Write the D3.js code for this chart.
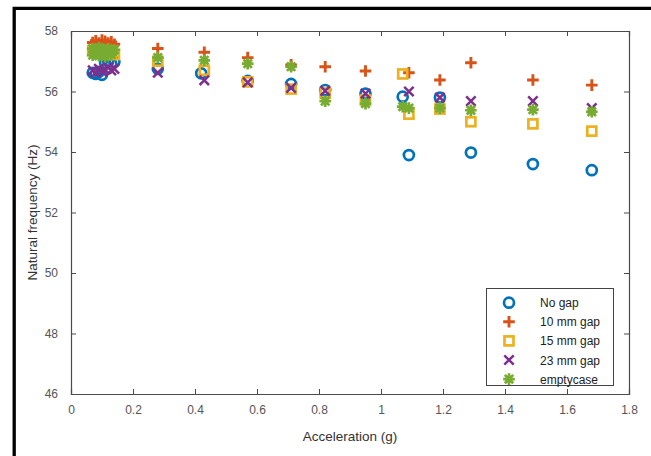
<!DOCTYPE html>
<html><head><meta charset="utf-8">
<script src="https://cdn.jsdelivr.net/npm/d3@7"></script>
<style>body{margin:0;background:#fff;} svg{display:block;}</style>
</head><body>
<svg id="c" width="651" height="456"></svg>
<script>
const xTicks = [0,0.2,0.4,0.6,0.8,1,1.2,1.4,1.6,1.8];
const yTicks = [46,48,50,52,54,56,58];
const seriesNames = ["No gap","10 mm gap","15 mm gap","23 mm gap","emptycase"];

const noGapX = [0.07,0.08,0.09,0.10,0.11,0.12,0.13,0.14,0.28,0.42,0.57,0.71,0.82,0.95,1.07,1.09,1.19,1.29,1.49,1.68];
const noGapY = [56.62,56.58,56.65,56.55,56.95,57.0,56.92,56.98,56.75,56.6,56.35,56.25,56.05,55.93,55.83,53.9,55.8,53.98,53.6,53.4];

const gap10X = [0.07,0.08,0.09,0.10,0.11,0.12,0.13,0.14,0.28,0.43,0.57,0.71,0.82,0.95,1.09,1.19,1.29,1.49,1.68];
const gap10Y = [57.62,57.68,57.6,57.7,57.66,57.6,57.64,57.56,57.42,57.3,57.12,56.88,56.82,56.68,56.62,56.38,56.95,56.38,56.21];

const gap15X = [0.07,0.08,0.09,0.10,0.11,0.12,0.13,0.14,0.28,0.43,0.57,0.71,0.82,0.95,1.07,1.09,1.19,1.29,1.49,1.68];
const gap15Y = [57.35,57.3,57.38,57.28,57.32,57.25,57.3,57.22,57.0,56.7,56.32,56.08,55.95,55.72,56.58,55.25,55.42,55.0,54.93,54.69];

const gap23X = [0.07,0.08,0.09,0.10,0.11,0.12,0.13,0.14,0.28,0.43,0.57,0.71,0.82,0.95,1.09,1.19,1.29,1.49,1.68];
const gap23Y = [56.7,56.62,56.75,56.66,56.72,56.8,56.7,56.75,56.62,56.37,56.3,56.12,56.02,55.93,56.0,55.8,55.68,55.68,55.45];

const emptyX = [0.07,0.08,0.09,0.10,0.11,0.12,0.13,0.14,0.07,0.09,0.11,0.13,0.28,0.43,0.57,0.71,0.82,0.95,1.07,1.09,1.19,1.29,1.49,1.68];
const emptyY = [57.42,57.38,57.45,57.4,57.35,57.42,57.3,57.38,57.2,57.18,57.15,57.22,57.12,57.03,56.92,56.82,55.68,55.6,55.5,55.45,55.45,55.38,55.4,55.33];

const colors = ["#0072BD","#D95319","#EDB120","#7E2F8E","#77AC30"];
const shapes = ["circle","plus","square","cross","star"];

const svg = d3.select("#c");
const L=71, R=629, T=31, B=394;
const x = d3.scaleLinear().domain([0,1.8]).range([L,R]);
const y = d3.scaleLinear().domain([46,58]).range([B,T]);
const axisCol = "#4a4a4a";
const font = "'Liberation Sans', Arial, sans-serif";

// outer frame
svg.append("path").attr("d","M14.2,460 L14.2,8.3 L660,8.3").attr("fill","none").attr("stroke","#000").attr("stroke-width",3.3);

// axes
const gx = svg.append("g").attr("transform",`translate(0,${B})`)
  .call(d3.axisBottom(x).tickValues(xTicks).tickSize(-5).tickPadding(11).tickFormat(d3.format("~g")));
const gxt = svg.append("g").attr("transform",`translate(0,${T})`)
  .call(d3.axisTop(x).tickValues(xTicks).tickSize(-5).tickFormat(""));
const gy = svg.append("g").attr("transform",`translate(${L},0)`)
  .call(d3.axisLeft(y).tickValues(yTicks).tickSize(-5).tickPadding(13).tickFormat(d3.format("d")));
const gyr = svg.append("g").attr("transform",`translate(${R},0)`)
  .call(d3.axisRight(y).tickValues(yTicks).tickSize(-5).tickFormat(""));
[gx,gxt,gy,gyr].forEach(g=>{
  g.selectAll("path").attr("stroke",axisCol).attr("stroke-width",1.2);
  g.selectAll("line").attr("stroke",axisCol);
  g.selectAll("text").attr("fill","#555").style("font-family",font).style("font-size","12px");
});

// axis labels
svg.append("text").attr("x",(L+R)/2).attr("y",441).attr("text-anchor","middle")
  .style("font-family",font).style("font-size","13.5px").attr("fill","#333").text("Acceleration (g)");
svg.append("text").attr("transform",`translate(37,${(T+B)/2}) rotate(-90)`).attr("text-anchor","middle")
  .style("font-family",font).style("font-size","13.5px").attr("fill","#333").text("Natural frequency (Hz)");

function marker(g, shape, color){
  const s = 5.8;
  if(shape==="circle") g.append("circle").attr("r",5).attr("fill","none").attr("stroke",color).attr("stroke-width",2.7);
  else if(shape==="plus") g.append("path").attr("d",`M${-s},0H${s}M0,${-s}V${s}`).attr("stroke",color).attr("stroke-width",2.9);
  else if(shape==="square") g.append("rect").attr("x",-4.5).attr("y",-4.5).attr("width",9).attr("height",9).attr("fill","none").attr("stroke",color).attr("stroke-width",2.7);
  else if(shape==="cross") g.append("path").attr("d",`M${-4.7},${-4.7}L4.7,4.7M${-4.7},4.7L4.7,${-4.7}`).attr("stroke",color).attr("stroke-width",2.5);
  else if(shape==="star") g.append("path").attr("d",`M${-s},0H${s}M0,${-s}V${s}M-4.2,-4.2L4.2,4.2M-4.2,4.2L4.2,-4.2`).attr("stroke",color).attr("stroke-width",2.7);
}

const data = [[noGapX,noGapY],[gap10X,gap10Y],[gap15X,gap15Y],[gap23X,gap23Y],[emptyX,emptyY]];
data.forEach(([xs,ys],i)=>{
  const g = svg.append("g");
  xs.forEach((xv,j)=>{
    const m = g.append("g").attr("transform",`translate(${x(xv)},${y(ys[j])})`);
    marker(m, shapes[i], colors[i]);
  });
});

// legend
const lg = svg.append("g");
lg.append("rect").attr("x",486.5).attr("y",288.5).attr("width",127).attr("height",97)
  .attr("fill","#fff").attr("stroke","#444").attr("stroke-width",1);
seriesNames.forEach((n,i)=>{
  const yy = 302.7 + i*19.1;
  const m = lg.append("g").attr("transform",`translate(509,${yy})`);
  marker(m, shapes[i], colors[i]);
  lg.append("text").attr("x",540).attr("y",yy+4.5).style("font-family",font).style("font-size","12px").attr("fill","#222").text(n);
});
</script>
</body></html>
